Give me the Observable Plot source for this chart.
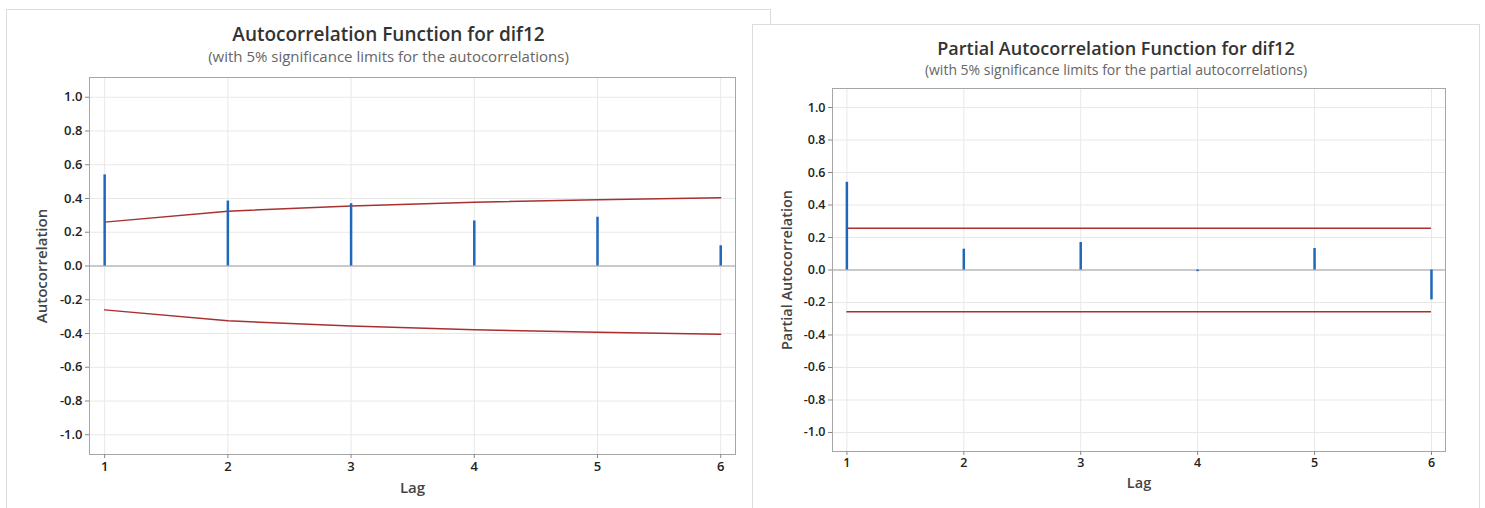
<!DOCTYPE html>
<html><head><meta charset="utf-8">
<script src="https://cdn.jsdelivr.net/npm/d3@7"></script>
<script src="https://cdn.jsdelivr.net/npm/@observablehq/plot@0.6"></script>
<style>
body{margin:0;background:#fff;width:1485px;height:508px;overflow:hidden;position:relative;font-family:"Open Sans",sans-serif;}
.panel{position:absolute;background:#fff;border:1px solid #dcdcdc;box-sizing:border-box;}
.panel svg{position:absolute;left:0;top:0;}
.title{position:absolute;left:0;right:0;text-align:center;color:#333;font-weight:600;line-height:20px;z-index:2;}
.sub{position:absolute;left:0;right:0;text-align:center;color:#666;line-height:16px;z-index:2;}
</style></head><body>
<div id="acf" class="panel" style="left:6px;top:9px;width:765px;height:530px">
  <div class="title" style="top:14px;font-size:19px">Autocorrelation Function for dif12</div>
  <div class="sub" style="top:38px;font-size:15px">(with 5% significance limits for the autocorrelations)</div>
</div>
<div id="pacf" class="panel" style="left:752px;top:24px;width:728px;height:530px">
  <div class="title" style="top:13px;font-size:18px">Partial Autocorrelation Function for dif12</div>
  <div class="sub" style="top:37px;font-size:14px">(with 5% significance limits for the partial autocorrelations)</div>
</div>
<script>
const lags = [1, 2, 3, 4, 5, 6];
const acfValues = [0.54, 0.385, 0.369, 0.267, 0.289, 0.12];
const acfLimits = [0.26, 0.325, 0.355, 0.378, 0.393, 0.404];
const pacfValues = [0.54, 0.128, 0.169, -0.01, 0.132, -0.184];
const pacfLimit = 0.257;
const yTicks = [-1.0, -0.8, -0.6, -0.4, -0.2, 0.0, 0.2, 0.4, 0.6, 0.8, 1.0];

const BLUE = "#1f67b9";
const RED = "#a8302f";
const GRID = "#e8e8e8";

function panel({values, limitsUpper, limitsLower, constLimit, yLabel, width, height, mL, mR, mT, mB, yLabDx, xLabDy, fs}) {
  const data = lags.map((lag, i) => ({lag, r: values[i]}));
  const marks = [
    Plot.gridX(lags, {stroke: GRID, strokeOpacity: 1}),
    Plot.gridY(yTicks, {stroke: GRID, strokeOpacity: 1}),
    Plot.frame({stroke: "#a6a6a6"}),
    Plot.axisX(lags, {tickSize: 4, tickPadding: 3, fontSize: fs, fontWeight: 600, fill: "#222", stroke: "#888", label: null, tickFormat: d => String(d)}),
    Plot.axisY(yTicks, {tickSize: 4, tickPadding: 3, fontSize: fs, fontWeight: 600, fill: "#222", stroke: "#888", label: null, tickFormat: d => d.toFixed(1)}),
    Plot.ruleY([0], {stroke: "#a0a0a0", strokeWidth: 1.2}),
  ];
  if (limitsUpper) {
    const lim = lags.map((lag, i) => ({lag, up: limitsUpper[i], lo: limitsLower[i]}));
    marks.push(Plot.line(lim, {x: "lag", y: "up", stroke: RED, strokeWidth: 1.5}));
    marks.push(Plot.line(lim, {x: "lag", y: "lo", stroke: RED, strokeWidth: 1.5}));
  } else {
    marks.push(Plot.ruleY([constLimit, -constLimit], {x1: lags[0], x2: lags[lags.length - 1], stroke: RED, strokeWidth: 1.5}));
  }
  marks.push(Plot.ruleX(data, {x: "lag", y1: 0, y2: "r", stroke: BLUE, strokeWidth: 2.5}));
  marks.push(Plot.text([yLabel], {frameAnchor: "left", textAnchor: "middle", rotate: -90, dx: yLabDx, fontSize: fs + 2, fontWeight: 600, fill: "#444"}));
  marks.push(Plot.text(["Lag"], {frameAnchor: "bottom", textAnchor: "middle", dy: xLabDy, fontSize: fs + 2, fontWeight: 600, fill: "#444"}));
  return Plot.plot({
    width, height,
    marginLeft: mL, marginRight: mR, marginTop: mT, marginBottom: mB,
    x: {domain: [0.877, 6.12]},
    y: {domain: [-1.117, 1.117]},
    style: {fontFamily: "'Open Sans', sans-serif", background: "transparent", overflow: "visible"},
    marks
  });
}

document.getElementById("acf").appendChild(panel({
  values: acfValues,
  limitsUpper: acfLimits,
  limitsLower: acfLimits.map(v => -v),
  yLabel: "Autocorrelation",
  width: 763, height: 498, mL: 82, mR: 35, mT: 67, mB: 54, yLabDx: -47, xLabDy: 38, fs: 13
}));
document.getElementById("pacf").appendChild(panel({
  values: pacfValues,
  constLimit: pacfLimit,
  yLabel: "Partial Autocorrelation",
  width: 726, height: 483, mL: 79, mR: 34, mT: 63, mB: 57, yLabDx: -45, xLabDy: 36, fs: 12.5
}));
</script>
</body></html>
